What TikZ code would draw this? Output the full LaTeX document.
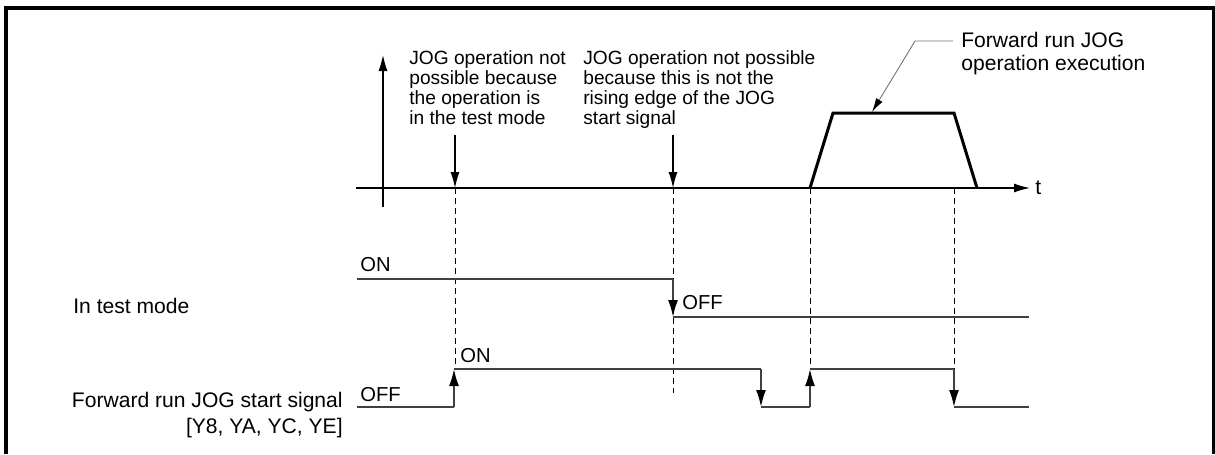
\documentclass[tikz,border=0pt]{standalone}
\usepackage{fontspec}
\setmainfont{Liberation Sans}
\usetikzlibrary{arrows.meta}

\tikzset{
  sig/.style={line width=0.035cm, black!75},
  edgearrow/.style={sig, -{Latex[length=0.34cm,width=0.2cm,color=black]}},
  axisarrow/.style={line width=0.025cm, -{Latex[length=0.32cm,width=0.18cm]}},
  guide/.style={line width=0.02cm, dash pattern=on 0.12cm off 0.08cm},
  lbl/.style={inner sep=0pt, font=\fontsize{12}{14.7}\selectfont},
  note/.style={inner sep=0pt, align=left, font=\fontsize{10.9}{11.5}\selectfont},
  level/.style={inner sep=0pt, font=\fontsize{11.5}{12}\selectfont}
}

\begin{document}
\begin{tikzpicture}[x=0.02cm, y=-0.02cm]

  \useasboundingbox (0,0) rectangle (1215,454);

  % frame (open at the bottom)
  \draw[line width=0.08cm] (6,454) -- (6,7.5) -- (1213.5,7.5) -- (1213.5,454);

  % speed axis and time axis
  \draw[axisarrow] (383,207) -- (383,55);
  \draw[axisarrow] (356,188) -- (1030,188);
  \node[lbl, anchor=west] (tlab) at (1035,188) {t};

  % forward run JOG operation
  \draw[line width=0.06cm] (810,188) -- (833,113) -- (954,113) -- (977,188);

  % notes above the time axis
  \node[note, anchor=north west] (notest) at (409,50)
    {JOG operation not\\possible because\\the operation is\\in the test mode};
  \node[note, anchor=north west] (noedge) at (583,50)
    {JOG operation not possible\\because this is not the\\rising edge of the JOG\\start signal};
  \node[lbl, anchor=north west, align=left, font=\fontsize{12}{13}\selectfont] (fwdrun) at (961,32)
    {Forward run JOG\\operation execution};

  \draw[axisarrow] (455,135) -- (455,188);
  \draw[axisarrow] (673,135) -- (673,188);
  \draw[black!55, line width=0.018cm, -{Latex[length=0.28cm,width=0.15cm,color=black]}]
    ([xshift=-0.16cm]fwdrun.west |- 0,41) -- (915,41) -- (872,112);

  % guide lines
  \draw[guide] (455,188) -- (455,369);
  \draw[guide] (673,188) -- (673,393);
  \draw[guide] (810,188) -- (810,369);
  \draw[guide] (954,188) -- (954,369);

  % in test mode
  \node[lbl, anchor=west] (testmode) at (73,306) {In test mode};
  \draw[sig] (357,279) -- (673,279);
  \draw[edgearrow] (673,279) -- (673,317);
  \draw[sig] (673,317) -- (1029,317);
  \node[level, anchor=south west] (teston) at (360,272) {ON};
  \node[level, anchor=south west] (testoff) at (682,310) {OFF};

  % forward run JOG start signal
  \node[lbl, anchor=north east, align=right] (startsig) at (343,392)
    {Forward run JOG start signal\\{}[Y8, YA, YC, YE]};
  \draw[sig] (357,407) -- (454,407);
  \draw[edgearrow] (454,407) -- (454,369);
  \draw[sig] (454,369) -- (761,369);
  \draw[edgearrow] (761,369) -- (761,407);
  \draw[sig] (761,407) -- (810,407);
  \draw[edgearrow] (810,407) -- (810,369);
  \draw[sig] (810,369) -- (954,369);
  \draw[edgearrow] (954,369) -- (954,407);
  \draw[sig] (954,407) -- (1029,407);
  \node[level, anchor=south west] (starton) at (460,363) {ON};
  \node[level, anchor=south west] (startoff) at (360,402) {OFF};

\end{tikzpicture}
\end{document}
